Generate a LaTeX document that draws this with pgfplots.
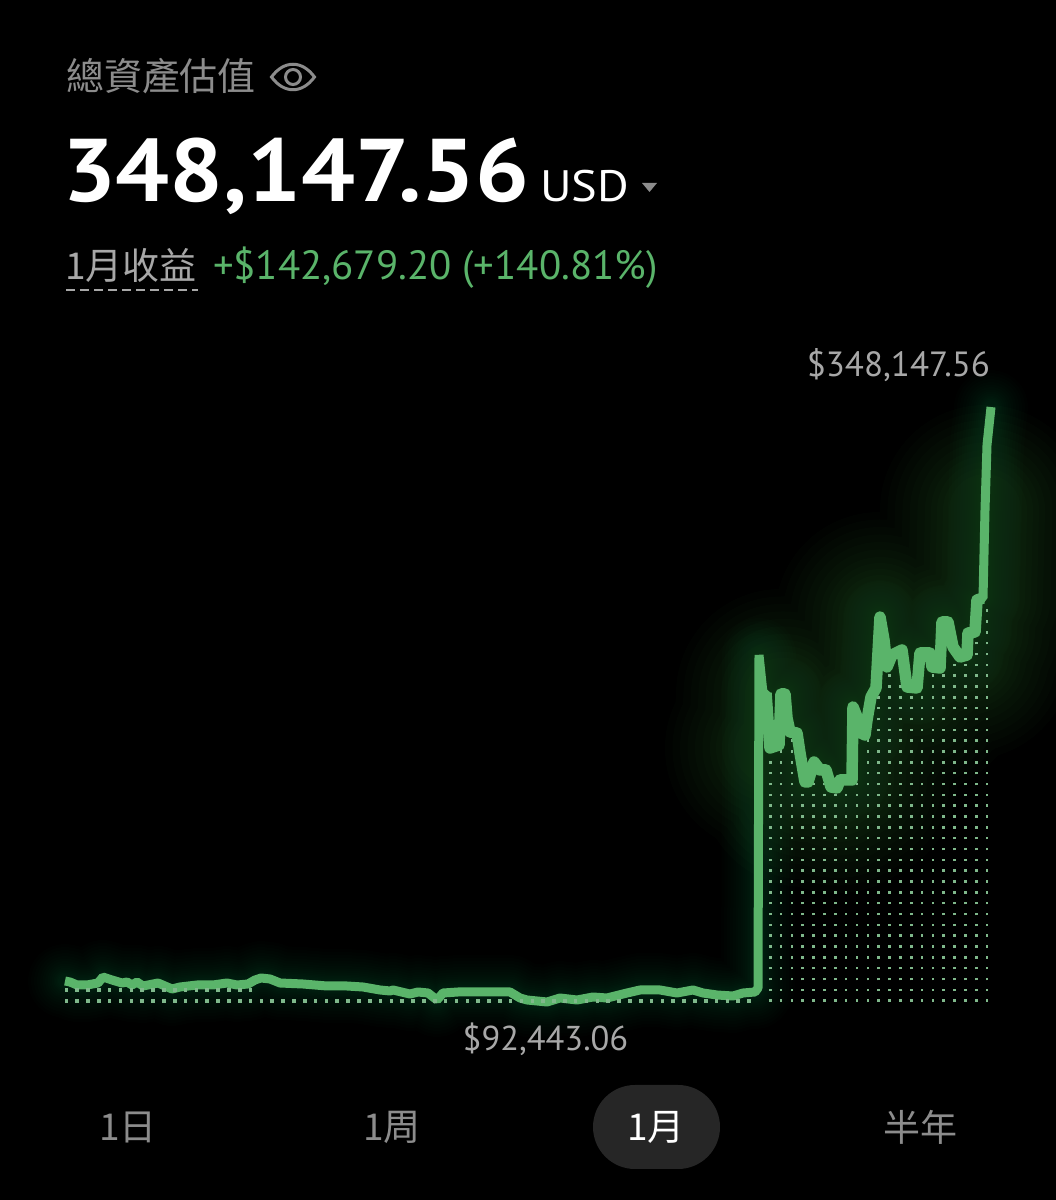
\documentclass[border=0pt]{standalone}
\usepackage{fontspec}
\usepackage{pgfplots}
\usepackage{pgfplotstable}
\pgfplotsset{compat=1.18}
\setmainfont{PT Sans}
\newfontfamily\cjk{Noto Sans CJK TC}
\definecolor{linegreen}{HTML}{5AB46A}
\definecolor{glowgreen}{HTML}{46C864}
\definecolor{dotgreen}{HTML}{7FB88B}
\definecolor{pill}{HTML}{262626}
\definecolor{muted}{HTML}{8C8C8C}
\definecolor{soft}{HTML}{A8A8A8}

% portfolio value in USD, x is the position along the month in picture pixels
\pgfplotstableread{
x y
65 101469
70 101039
77 99750
87 99750
98 100609
103 103188
112 101899
122 100609
127 101039
132 99750
137 101039
143 99320
158 100609
165 99320
172 98030
180 98890
197 99750
213 99750
227 100609
237 99750
248 100179
255 101899
261 102758
270 102328
280 100609
303 100179
327 99320
347 99320
363 98890
380 97601
390 97171
393 97601
410 95881
418 96741
428 96311
437 93303
443 96311
458 96741
480 96741
510 96741
520 94162
527 93303
547 92443.06
560 94162
577 93303
593 94592
607 94162
627 96311
640 97601
660 97601
677 96311
693 97601
703 96311
717 95452
733 95022
743 96311
755 96741
758 98460
759 241584
763 225251
766 225251
770 201612
779 202902
781 224821
785 224821
787 214506
790 208489
797 208059
800 199463
805 186999
808 186999
814 195595
820 192157
826 192157
831 184850
837 184420
840 187859
852 187859
853 219234
857 214936
861 208059
865 207200
867 213647
871 223532
876 227400
880 257916
884 248031
887 236426
892 241584
902 243733
907 227830
917 227400
920 242443
930 242443
932 236426
940 235996
942 255767
948 255767
953 245022
960 240724
967 241584
968 251039
975 251469
977 265223
983 266082
985 303905
987 331842
991 348147.56
}\valuedata

\begin{document}
\begin{tikzpicture}
\useasboundingbox (0,0) rectangle (1056pt,1200pt);
\fill[black] (0,0) rectangle (1056pt,1200pt);

\begin{axis}[
    at={(0,0)},
    anchor=south west,
    width=1056pt,
    height=1200pt,
    scale only axis,
    hide axis,
    xmin=0,
    xmax=1056,
    ymin=7343,
    ymax=523103,
    unbounded coords=jump,
]
% wide glow round the jump
\pgfplotsinvokeforeach{210,195,180,165,150,135,120,108,96,84,72}{
  \addplot[glowgreen, opacity=0.019, line width=#1pt, line join=round, line cap=round, restrict x to domain=770:985] table[x=x,y=y] {\valuedata};
}
% glow following the whole line
\pgfplotsinvokeforeach{74,68,62,56,50,45,40,35,31,27,23,20,17,14}{
  \addplot[glowgreen, opacity=0.012, line width=#1pt, line join=round, line cap=round] table[x=x,y=y] {\valuedata};
}

% dotted fill, bottom rows of the flat stretch
\addplot[only marks, mark=square*, mark size=1.3pt, dotgreen, mark options={draw=none}] coordinates {
(66,92873) (76.8,92873) (87.7,92873) (98.5,92873) (109.3,92873) (120.2,92873) (131,92873) (141.8,92873) (152.7,92873) (163.5,92873)
(174.4,92873) (185.2,92873) (196,92873) (206.9,92873) (217.7,92873) (228.5,92873) (239.4,92873) (250.2,92873) (261.1,92873) (271.9,92873)
(282.7,92873) (293.6,92873) (304.4,92873) (315.2,92873) (326.1,92873) (336.9,92873) (347.8,92873) (358.6,92873) (369.4,92873) (380.3,92873)
(391.1,92873) (401.9,92873) (412.8,92873) (423.6,92873) (434.5,92873) (445.3,92873) (456.1,92873) (467,92873) (477.8,92873) (488.6,92873)
(499.5,92873) (510.3,92873) (521.2,92873) (532,92873) (542.8,92873) (553.7,92873) (564.5,92873) (575.3,92873) (586.2,92873) (597,92873)
(607.8,92873) (618.7,92873) (629.5,92873) (640.4,92873) (651.2,92873) (662,92873) (672.9,92873) (683.7,92873) (694.5,92873) (705.4,92873)
(716.2,92873) (727.1,92873) (737.9,92873) (748.7,92873)
(66,97601) (76.8,97601) (87.7,97601) (98.5,97601) (109.3,97601) (120.2,97601) (131,97601) (141.8,97601) (152.7,97601) (163.5,97601)
(174.4,97601) (185.2,97601) (196,97601) (206.9,97601) (217.7,97601) (228.5,97601) (239.4,97601) (250.2,97601)
};
% dotted fill under the jump: each column runs up to the value it reaches
\addplot[dotgreen, line width=2.6pt, dash pattern=on 2.6pt off 8.235pt] coordinates {
(770.3,92443) (770.3,201612) (770.3,nan)
(781.1,92443) (781.1,200753) (781.1,nan)
(791.9,92443) (791.9,205480) (791.9,nan)
(802.7,92443) (802.7,186999) (802.7,nan)
(813.6,92443) (813.6,186999) (813.6,nan)
(824.4,92443) (824.4,186999) (824.4,nan)
(835.3,92443) (835.3,182271) (835.3,nan)
(846.1,92443) (846.1,186999) (846.1,nan)
(857,92443) (857,205480) (857,nan)
(867.8,92443) (867.8,210208) (867.8,nan)
(878.7,92443) (878.7,224392) (878.7,nan)
(889.5,92443) (889.5,233417) (889.5,nan)
(900.4,92443) (900.4,228690) (900.4,nan)
(911.2,92443) (911.2,224392) (911.2,nan)
(922,92443) (922,228690) (922,nan)
(932.9,92443) (932.9,233417) (932.9,nan)
(943.7,92443) (943.7,233417) (943.7,nan)
(954.6,92443) (954.6,238145) (954.6,nan)
(965.4,92443) (965.4,238145) (965.4,nan)
(976.3,92443) (976.3,247601) (976.3,nan)
(987.1,92443) (987.1,261784)
};

% the value line, heavier where it is noisy after the jump
\addplot[linegreen, line width=9pt, line join=bevel] table[x=x,y=y] {\valuedata};
\addplot[linegreen, line width=11.5pt, line join=round, restrict x to domain=764:983] table[x=x,y=y] {\valuedata};
\end{axis}

% header, value labels and range selector, coordinates in picture pixels
\begin{scope}[x=1pt,y=-1pt,yshift=1200pt,every node/.style={inner sep=0pt,outer sep=0pt}]
\node[anchor=base west,text=muted] at (66,91) {\fontsize{38}{38}\selectfont\cjk 總資產估值};
\draw[muted,line width=3pt] (271.5,77) .. controls (284,60) and (302,60) .. (314.5,77) .. controls (302,94) and (284,94) .. (271.5,77) -- cycle;
\draw[muted,line width=3pt] (293,77) circle (7.5);

\node[anchor=base west,text=white,xscale=1.069] at (62,202) {\fontsize{89}{89}\selectfont\bfseries 348,147.56};
\node[anchor=base west,text=white,xscale=1.1] at (540,202) {\fontsize{44}{44}\selectfont USD};
\fill[muted] (642,183) -- (657,183) -- (649.5,192) -- cycle;

\node[anchor=base west,text=soft] at (65,280) {\fontsize{37}{37}\selectfont\cjk 1月收益};
\draw[soft,line width=1.6pt,dash pattern=on 9pt off 5pt] (66,290) -- (198,290);
\node[anchor=base west,text=linegreen] at (213,280) {\fontsize{40.8}{40.8}\selectfont +\$142,679.20 (+140.81\%)};

\node[anchor=base east,text=soft] at (990,377) {\fontsize{35}{35}\selectfont \$348,147.56};
\node[anchor=base,text=soft] at (545.5,1051) {\fontsize{34.5}{34.5}\selectfont \$92,443.06};

\fill[pill,rounded corners=42pt] (593,1085) rectangle (720,1169);
\node[text=muted] at (128,1127) {\fontsize{37}{37}\selectfont\cjk 1日};
\node[text=muted] at (392,1127) {\fontsize{37}{37}\selectfont\cjk 1周};
\node[text=white] at (656,1127) {\fontsize{37}{37}\selectfont\cjk 1月};
\node[text=muted] at (920,1127) {\fontsize{37}{37}\selectfont\cjk 半年};
\end{scope}
\end{tikzpicture}
\end{document}
